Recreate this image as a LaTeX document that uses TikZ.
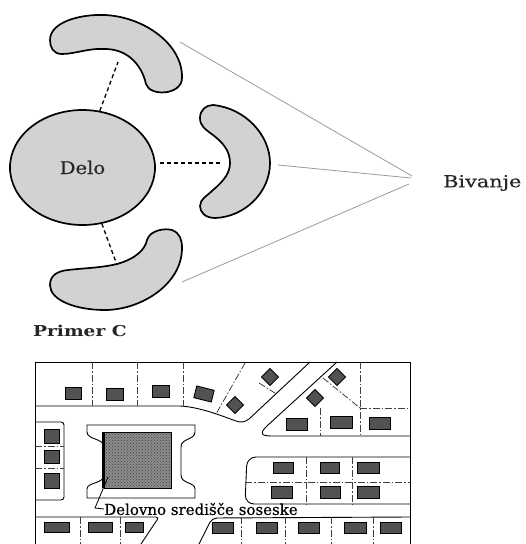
\documentclass[tikz,border=0pt]{standalone}
\usepackage{fontspec}
\usepackage{graphicx}
\newfontfamily\lblfont[FakeBold=0.5]{DejaVu Serif}
\newfontfamily\lblbold{DejaVu Serif}
\usetikzlibrary{shapes.geometric,patterns}
\definecolor{beangray}{HTML}{D2D2D2}
\definecolor{raygray}{HTML}{9A9A9A}
\definecolor{txtgray}{HTML}{262626}
\begin{document}
\begin{tikzpicture}[x=1pt,y=-1pt,
  bean/.style={fill=beangray,draw=black,line width=1.7pt},
  dashlink/.style={line width=1.3pt,dash pattern=on 4pt off 3pt},
  ray/.style={draw=raygray,line width=0.8pt},
  road/.style={draw=black,line width=0.9pt},
  divider/.style={draw=black!75,line width=0.8pt,dash pattern=on 7pt off 2pt on 1.5pt off 2pt},
  house/.style={draw=black,fill=black!68,line width=0.9pt,inner sep=0pt},
  diam/.style={house,minimum size=12pt,rotate=45}
]
\useasboundingbox (0,0) rectangle (526,544);

% ---------- upper diagram ----------
\node[ellipse,bean,minimum width=145pt,minimum height=115pt,inner sep=0pt,
      font=\lblfont\fontsize{17.5}{17.5}\selectfont,text=txtgray] (delo) at (82.5,167.5) {\scalebox{1.12}[1]{Delo}};

% top bean
\draw[bean] (50,40) .. controls (50,22) and (80,14) .. (105,15)
  .. controls (145,17) and (183,45) .. (182,78)
  .. controls (182,95) and (150,97) .. (146,84)
  .. controls (141,62) and (125,49) .. (105,49)
  .. controls (88,48) and (75,54) .. (62,54)
  .. controls (53,54) and (50,47) .. (50,40) -- cycle;
% middle bean
\draw[bean] (213,105) .. controls (245,108) and (270,135) .. (270,163)
  .. controls (270,192) and (245,217) .. (215,218)
  .. controls (205,218) and (200,212) .. (200,206)
  .. controls (200,199) and (207,196) .. (213,190)
  .. controls (225,180) and (230,172) .. (230,163)
  .. controls (230,150) and (222,142) .. (213,135)
  .. controls (205,129) and (200,126) .. (200,118)
  .. controls (200,110) and (206,105) .. (213,105) -- cycle;
% bottom bean
\draw[bean] (182,248) .. controls (182,285) and (140,310) .. (105,310)
  .. controls (75,310) and (50,300) .. (50,285)
  .. controls (50,275) and (58,271) .. (68,270)
  .. controls (85,268) and (100,268) .. (117,264)
  .. controls (135,259) and (145,250) .. (147,240)
  .. controls (150,230) and (165,228) .. (172,230)
  .. controls (180,233) and (182,240) .. (182,248) -- cycle;

\coordinate (tb) at (118,62);
\coordinate (mb) at (221,163);
\coordinate (bb) at (117,265);
\coordinate (mstart) at (160,163);
\draw[dashlink] (delo.73) -- (tb);
\draw[dashlink] (mstart) -- (mb);
\draw[dashlink] (delo.-71) -- (bb);

\coordinate (r1) at (180,42);
\coordinate (r2) at (278,165);
\coordinate (r3) at (182,282);
\coordinate (c1) at (412,176);
\coordinate (c2) at (411,178);
\coordinate (c3) at (409,184);
\draw[ray] (r1) -- (c1);
\draw[ray] (r2) -- (c2);
\draw[ray] (r3) -- (c3);

\node[font=\lblfont\fontsize{16.5}{16.5}\selectfont,text=txtgray,anchor=west,inner sep=0pt] (biv) at (443,183) {\scalebox{1.26}[1]{Bivanje}};

\node[font=\lblbold\bfseries\fontsize{15}{15}\selectfont,text=txtgray,anchor=west,inner sep=0pt] (primer) at (33,331) {\scalebox{1.24}[1]{Primer C}};

% ---------- map ----------
\draw[road] (35,544) -- (35,362) -- (410,362) -- (410,544);

% top-left block edge and diagonal road
\draw[road] (35,406) -- (180,406) .. controls (200,407) and (222,416) .. (236,421)
  .. controls (241,423) and (245,422) .. (249,419) -- (310,362);
% triangle block
\draw[road] (337,362) -- (268,425) .. controls (258,434) and (262,436) .. (272,436) -- (410,436);

% top row dividers
\draw[divider] (92,362) -- (92,406);
\draw[divider] (137,362) -- (137,406);
\draw[divider] (183,362) -- (183,406);
\draw[divider] (245,363) -- (216,414);
\draw[divider] (259,383) -- (275,393);
% triangle block dividers
\draw[divider] (360,362) -- (360,436);
\draw[divider] (360,408) -- (410,408);
\draw[divider] (323,378) -- (360,408);
\draw[divider] (320,408) -- (320,436);

% top row houses
\node[house,minimum width=16pt,minimum height=12pt] (h1) at (73,393) {};
\node[house,minimum width=17pt,minimum height=12pt] (h2) at (115,394) {};
\node[house,minimum width=17pt,minimum height=12pt] (h3) at (161,391) {};
\node[house,minimum width=18pt,minimum height=12pt,rotate=-14] (h4) at (204,394) {};
\node[diam] (d1) at (270,377) {};
\node[diam] (d2) at (235,405) {};
\node[diam] (d3) at (337,377) {};
\node[diam] (d4) at (315,398) {};
\node[house,minimum width=21pt,minimum height=12pt] (h5) at (297,424) {};
\node[house,minimum width=22pt,minimum height=12pt] (h6) at (341,422) {};
\node[house,minimum width=21pt,minimum height=12pt] (h7) at (380,423) {};

% left block
\draw[road,rounded corners=3pt] (35,422) -- (64,422) -- (64,500) -- (35,500);
\draw[divider] (35,446) -- (64,446);
\draw[divider] (35,468) -- (64,468);
\node[house,minimum width=15pt,minimum height=14pt] (l1) at (52,436) {};
\node[house,minimum width=15pt,minimum height=13pt] (l2) at (52,457) {};
\node[house,minimum width=15pt,minimum height=15pt] (l3) at (52,481) {};

% park
\draw[road] (87,425) -- (195,425) -- (195,432)
  .. controls (195,440) and (181,438) .. (181,447) -- (181,475)
  .. controls (181,484) and (195,482) .. (195,489) -- (195,498) -- (87,498) -- (87,489)
  .. controls (87,482) and (104,484) .. (104,475) -- (104,447)
  .. controls (104,438) and (87,440) .. (87,432) -- cycle;
\node[draw=black,line width=0.9pt,minimum width=67pt,minimum height=56pt,inner sep=0pt,
      preaction={fill=black!45},pattern=crosshatch dots,pattern color=black!75] (park) at (137.5,460) {};
\draw[line width=2.4pt] (park.north west) -- (park.south west);

\node[font=\lblfont\fontsize{15}{15}\selectfont,text=black,anchor=west,inner sep=0pt] (dsl) at (104,509) {Delovno središče soseske};
\coordinate (lead) at (108,477);
\coordinate (hook) at (95,508);
\draw[line width=0.8pt] (lead) -- (hook) -- (dsl.west);

% middle right block
\draw[road,rounded corners=9pt] (410,457) -- (247,457) -- (245,504) -- (410,504);
\draw[divider] (245,482) -- (410,482);
\draw[divider] (306,457) -- (306,504);
\draw[divider] (352,457) -- (352,504);
\node[house,minimum width=20pt,minimum height=11pt] (m1) at (283,468) {};
\node[house,minimum width=19pt,minimum height=11pt] (m2) at (330,468) {};
\node[house,minimum width=22pt,minimum height=11pt] (m3) at (368,468) {};
\node[house,minimum width=21pt,minimum height=12pt] (m4) at (282,492) {};
\node[house,minimum width=20pt,minimum height=12pt] (m5) at (330,492) {};
\node[house,minimum width=22pt,minimum height=12pt] (m6) at (368,492) {};

% bottom row
\draw[road,rounded corners=3pt] (35,517) -- (159,517) -- (141,544);
\draw[road,rounded corners=5pt] (199,544) -- (212,518) -- (410,517);
\draw[divider] (80,517) -- (80,544);
\draw[divider] (120,517) -- (120,544);
\draw[divider] (241,517) -- (241,544);
\draw[divider] (285,517) -- (285,544);
\draw[divider] (331,517) -- (331,544);
\draw[divider] (373,517) -- (373,544);
\node[house,minimum width=25pt,minimum height=10pt] (b1) at (57,527) {};
\node[house,minimum width=24pt,minimum height=10pt] (b2) at (100,527) {};
\node[house,minimum width=18pt,minimum height=10pt] (b3) at (134,527) {};
\node[house,minimum width=21pt,minimum height=11pt] (b4) at (223,528) {};
\node[house,minimum width=21pt,minimum height=11pt] (b5) at (267,528) {};
\node[house,minimum width=21pt,minimum height=11pt] (b6) at (309,528) {};
\node[house,minimum width=22pt,minimum height=11pt] (b7) at (355,528) {};
\node[house,minimum width=21pt,minimum height=11pt] (b8) at (391,528) {};
\end{tikzpicture}
\end{document}
